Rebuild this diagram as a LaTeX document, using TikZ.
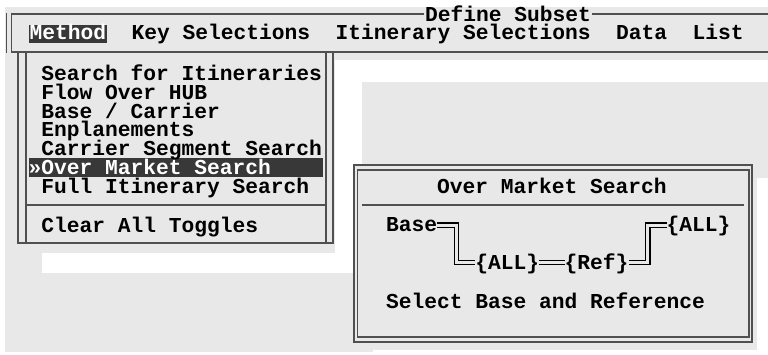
\documentclass[tikz,border=0pt]{standalone}
\usepackage{fontspec}
\usepackage{tikz}

\newfontfamily\dosfont{Liberation Mono}
\definecolor{screen}{HTML}{E8E8E8}
\definecolor{frame}{HTML}{505050}
\definecolor{barfill}{HTML}{383838}
\tikzset{
	txt/.style={inner sep=0pt, anchor=base west, text height=13pt, text depth=0pt,
		font=\fontsize{21.25}{21.25}\dosfont\bfseries},
	rule/.style={draw=frame, line width=1.5pt},
	dline/.style={draw=black, line width=1.4pt, double=screen, double distance=3pt},
}

\begin{document}
\begin{tikzpicture}[x=1pt, y=-1pt]
		\useasboundingbox (0,0) rectangle (768,354);
		% screen background
		\fill[white] (0,0) rectangle (768,354);
		\fill[screen] (5,7) rectangle (768,60);
		\fill[screen] (5,60) rectangle (335,253);
		\fill[screen] (5,253) rectangle (42,273);
		\fill[screen] (5,273) rectangle (373,352);
		\fill[screen] (362,82) rectangle (768,178);
		\fill[screen] (353,165) rectangle (757,350);

		% menu bar
		\draw[rule] (6.5,12.5) -- (6.5,53);
		\draw[rule] (11.5,12.5) -- (11.5,53);
		\draw[rule] (11.5,14) -- (768,14);
		\draw[rule] (11.5,52) -- (768,52);
		\node[txt, fill=screen, text height=12pt, inner xsep=1pt] (title) at (424,21) {Define Subset};
		\fill[barfill] (29,25) rectangle (106.5,43);
		\node[txt, text=white] (method) at (29.5,39) {Method};
		\node[txt] (keysel) at (131.5,39) {Key Selections};
		\node[txt] (itinsel) at (335.5,39) {Itinerary Selections};
		\node[txt] (data) at (616,39) {Data};
		\node[txt] (list) at (692.5,39) {List};

		% drop-down menu
		\draw[rule] (18,52) -- (18,243) -- (333,243) -- (333,52);
		\draw[rule] (26,52) -- (26,243);
		\draw[rule] (326,52) -- (326,243);
		\draw[rule] (26,205) -- (326,205);
		\fill[barfill] (28.5,158) rectangle (323,177);
		\node[txt] (search) at (41.25,80.5) {Search for Itineraries};
		\node[txt] (flowhub) at (41.25,99.25) {Flow Over HUB};
		\node[txt] (basecarr) at (41.25,118) {Base / Carrier};
		\node[txt] (enplane) at (41.25,136.75) {Enplanements};
		\node[txt] (carrseg) at (41.25,155.5) {Carrier Segment Search};
		\node[txt, text=white] (overmkt) at (28.5,174.25) {»Over Market Search};
		\node[txt] (fullitin) at (41.25,193) {Full Itinerary Search};
		\node[txt] (clear) at (41.25,232) {Clear All Toggles};

		% pop-up window
		\draw[rule] (354,165) rectangle (752,342);
		\draw[rule] (357.5,170) rectangle (749,337);
		\draw[rule] (362,205) -- (744,205);
		\node[txt] (omtitle) at (437,193) {Over Market Search};
		\node[txt] (base) at (386,231.7) {Base};
		\node[txt] (allbase) at (475.25,269) {\{ALL\}};
		\node[txt] (ref) at (564.5,269) {\{Ref\}};
		\node[txt] (allref) at (666.5,231.7) {\{ALL\}};
		\node[txt] (prompt) at (386,308) {Select Base and Reference};
		\draw[dline] (base.east) -- ++(19.1,0) |- (allbase.west);
		\draw[dline] (allbase.east) -- (ref.west);
		\draw[dline] (ref.east) -- ++(19.1,0) |- (allref.west);
\end{tikzpicture}
\end{document}
